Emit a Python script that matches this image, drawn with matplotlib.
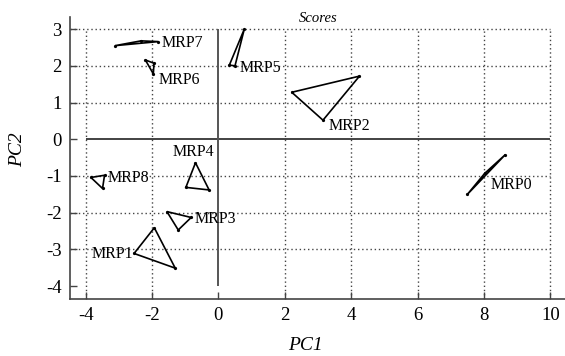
import matplotlib
matplotlib.use("Agg")
import matplotlib.pyplot as plt

# score triangles (PC1, PC2 of each replicate vertex)
labels = ["MRP0", "MRP1", "MRP2", "MRP3", "MRP4", "MRP5", "MRP6", "MRP7", "MRP8"]
pc1 = [
    [7.50, 8.64, 8.02],
    [-1.93, -2.54, -1.30],
    [2.21, 4.25, 3.15],
    [-1.55, -0.82, -1.21],
    [-0.69, -0.98, -0.28],
    [0.33, 0.78, 0.50],
    [-2.20, -1.94, -1.96],
    [-3.11, -2.33, -1.81],
    [-3.84, -3.43, -3.49],
]
pc2 = [
    [-1.50, -0.42, -0.93],
    [-2.41, -3.11, -3.51],
    [1.28, 1.72, 0.52],
    [-1.97, -2.13, -2.47],
    [-0.64, -1.31, -1.38],
    [2.02, 3.00, 2.00],
    [2.16, 2.07, 1.78],
    [2.55, 2.68, 2.66],
    [-1.04, -0.98, -1.34],
]
# label anchor points
label_x = [8.21, -2.58, 3.31, -0.72, -0.76, 0.65, -1.81, -1.70, -3.33]
label_y = [-1.25, -3.13, 0.36, -2.17, -0.36, 1.93, 1.62, 2.63, -1.06]
label_ha = ["left", "right", "left", "left", "center", "left", "left", "left", "left"]

x_ticks = [-4, -2, 0, 2, 4, 6, 8, 10]
y_ticks = [-4, -3, -2, -1, 0, 1, 2, 3]

plt.rcParams["font.family"] = ["Liberation Serif", "DejaVu Serif"]
plt.rcParams["font.size"] = 12

fig = plt.figure(figsize=(5.65, 3.56), dpi=100)
ax = fig.add_axes([70 / 565, 57 / 356, 495 / 565, 282 / 356])
ax.set_xlim(-4.47, 10.44)
ax.set_ylim(-4.35, 3.33)

grid_kw = dict(color="#444444", linestyle=(0, (1, 2)), linewidth=1.0, zorder=1)
for yv in y_ticks:
    if yv in (0, -4):
        continue
    ax.hlines(yv, -4.47, 10, **grid_kw)
for xv in x_ticks:
    if xv == 0:
        continue
    ax.vlines(xv, -4.35, 3, **grid_kw)
ax.hlines(0, -4, 10, color="#222222", linewidth=1.2, zorder=2)
ax.vlines(0, -4, 3, color="#555555", linewidth=1.4, zorder=2)

for xs, ys in zip(pc1, pc2):
    ax.fill(xs, ys, facecolor="none", edgecolor="black", linewidth=1.2, zorder=3)
    ax.plot(xs, ys, "o", color="black", markersize=1.3, zorder=4)

for lx, ly, txt, ha in zip(label_x, label_y, labels, label_ha):
    ax.text(lx, ly, txt, ha=ha, va="center", fontsize=11.5, zorder=5)

ax.set_xticks(x_ticks)
ax.set_yticks(y_ticks)
ax.set_xticklabels([str(v) for v in x_ticks])
ax.set_yticklabels([str(v) for v in y_ticks])
ax.tick_params(direction="in", length=5, width=1.0, color="#444444", labelsize=13.5)
ax.tick_params(axis="x", pad=6)
ax.tick_params(axis="y", pad=6)

for side in ("top", "right"):
    ax.spines[side].set_visible(False)
for side in ("left", "bottom"):
    ax.spines[side].set_color("#444444")
    ax.spines[side].set_linewidth(1.2)

fig.text(318 / 565, 1 - 19 / 356, "Scores", ha="center", va="center",
         fontsize=10.5, style="italic")
fig.text(305 / 565, 1 - 346 / 356, "PC1", ha="center", va="center",
         fontsize=14, style="italic")
fig.text(18 / 565, 1 - 150 / 356, "PC2", ha="center", va="center",
         fontsize=14, style="italic", rotation=90)

fig.savefig("out.png", dpi=100)
